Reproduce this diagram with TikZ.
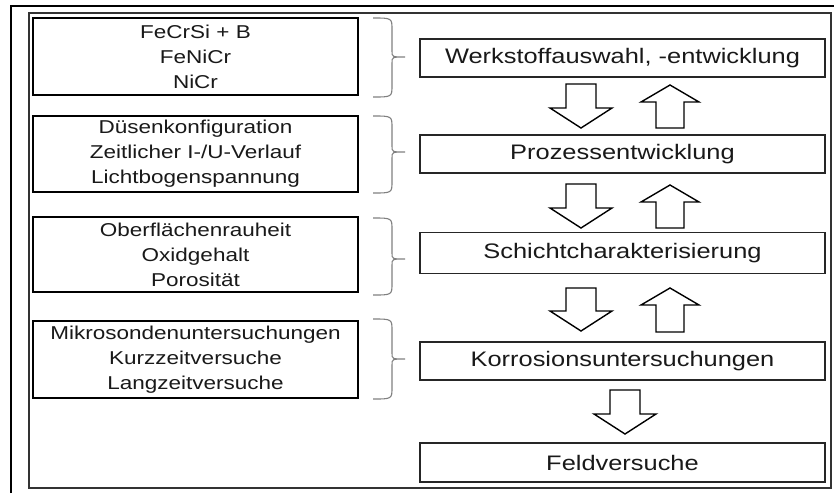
\documentclass[tikz,border=0pt]{standalone}
\usepackage{fontspec}
\setmainfont{Liberation Sans}
\usepackage{graphicx}
\newcommand\hs[1]{\scalebox{1.21}[1]{#1}}
\newcommand\dnarr[3]{\draw[blk] (#1-15,#2) -- (#1+15,#2) -- (#1+15,#3-20) -- (#1+31,#3-20) -- (#1,#3) -- (#1-31,#3-20) -- (#1-15,#3-20) -- cycle;}
\newcommand\uparr[3]{\draw[blk] (#1-14,#2) -- (#1+14,#2) -- (#1+14,#3+17) -- (#1+29,#3+17) -- (#1,#3) -- (#1-29,#3+17) -- (#1-14,#3+17) -- cycle;}
\newcommand\mybrace[3]{\draw[brc] (373,#1) .. controls (392,#1) .. (392,#1+12) -- (392,#2-6) .. controls (392,#2) .. (405,#2) .. controls (392,#2) .. (392,#2+6) -- (392,#3-12) .. controls (392,#3) .. (373,#3);}
\begin{document}
\begin{tikzpicture}[x=1pt,y=-1pt,
  lbox/.style={draw=black,line width=1.4pt,minimum width=325pt,inner sep=0pt,align=center,
     font=\fontsize{18.6}{25}\selectfont,text=black!90},
  rbox/.style={draw=black!85,line width=1.8pt,minimum width=405pt,inner sep=0pt,align=center,
     font=\fontsize{21}{25}\selectfont,text=black!90},
  blk/.style={draw=black,line width=1.4pt,fill=white,line join=miter},
  brc/.style={draw=black!50,line width=1.1pt}]
\useasboundingbox (0,0) rectangle (834,493);
\fill[white] (0,0) rectangle (834,493);
% frame
\draw[line width=2.5pt] (11,493) -- (11,6) -- (834,6);
\draw[black!80,line width=1.1pt] (29,13) rectangle (831,488);
% left boxes
\node[lbox,minimum height=77pt] (l1) at (195.5,56.5) {\hs{FeCrSi + B}\\\hs{FeNiCr}\\\hs{NiCr}};
\node[lbox,minimum height=76pt] (l2) at (195.5,154) {\hs{Düsenkonfiguration}\\\hs{Zeitlicher I-/U-Verlauf}\\\hs{Lichtbogenspannung}};
\node[lbox,minimum height=75pt] (l3) at (195.5,254.5) {\hs{Oberflächenrauheit}\\\hs{Oxidgehalt}\\\hs{Porosität}};
\node[lbox,minimum height=77pt] (l4) at (195.5,359.5) {\hs{Mikrosondenuntersuchungen}\\\hs{Kurzzeitversuche}\\\hs{Langzeitversuche}};
% right boxes
\node[rbox,minimum height=38pt] (r1) at (622.5,58) {\hs{Werkstoffauswahl, -entwicklung}};
\node[rbox,minimum height=38pt] (r2) at (622.5,154) {\hs{Prozessentwicklung}};
\node[rbox,minimum height=41pt] (r3) at (622.5,253) {\hs{Schichtcharakterisierung}};
\node[rbox,minimum height=38pt] (r4) at (622.5,361) {\hs{Korrosionsuntersuchungen}};
\node[rbox,minimum height=39pt] (r5) at (622.5,462.5) {\hs{Feldversuche}};
% braces
\mybrace{18}{57}{97}
\mybrace{116}{152}{193}
\mybrace{218}{259}{295}
\mybrace{319}{359}{399}
% block arrows
\dnarr{581}{84}{128}
\uparr{670}{128}{85}
\dnarr{581}{184}{228}
\uparr{670}{228}{185}
\dnarr{581}{288}{331}
\uparr{670}{332}{288}
\dnarr{625}{390}{434}
\end{tikzpicture}
\end{document}
